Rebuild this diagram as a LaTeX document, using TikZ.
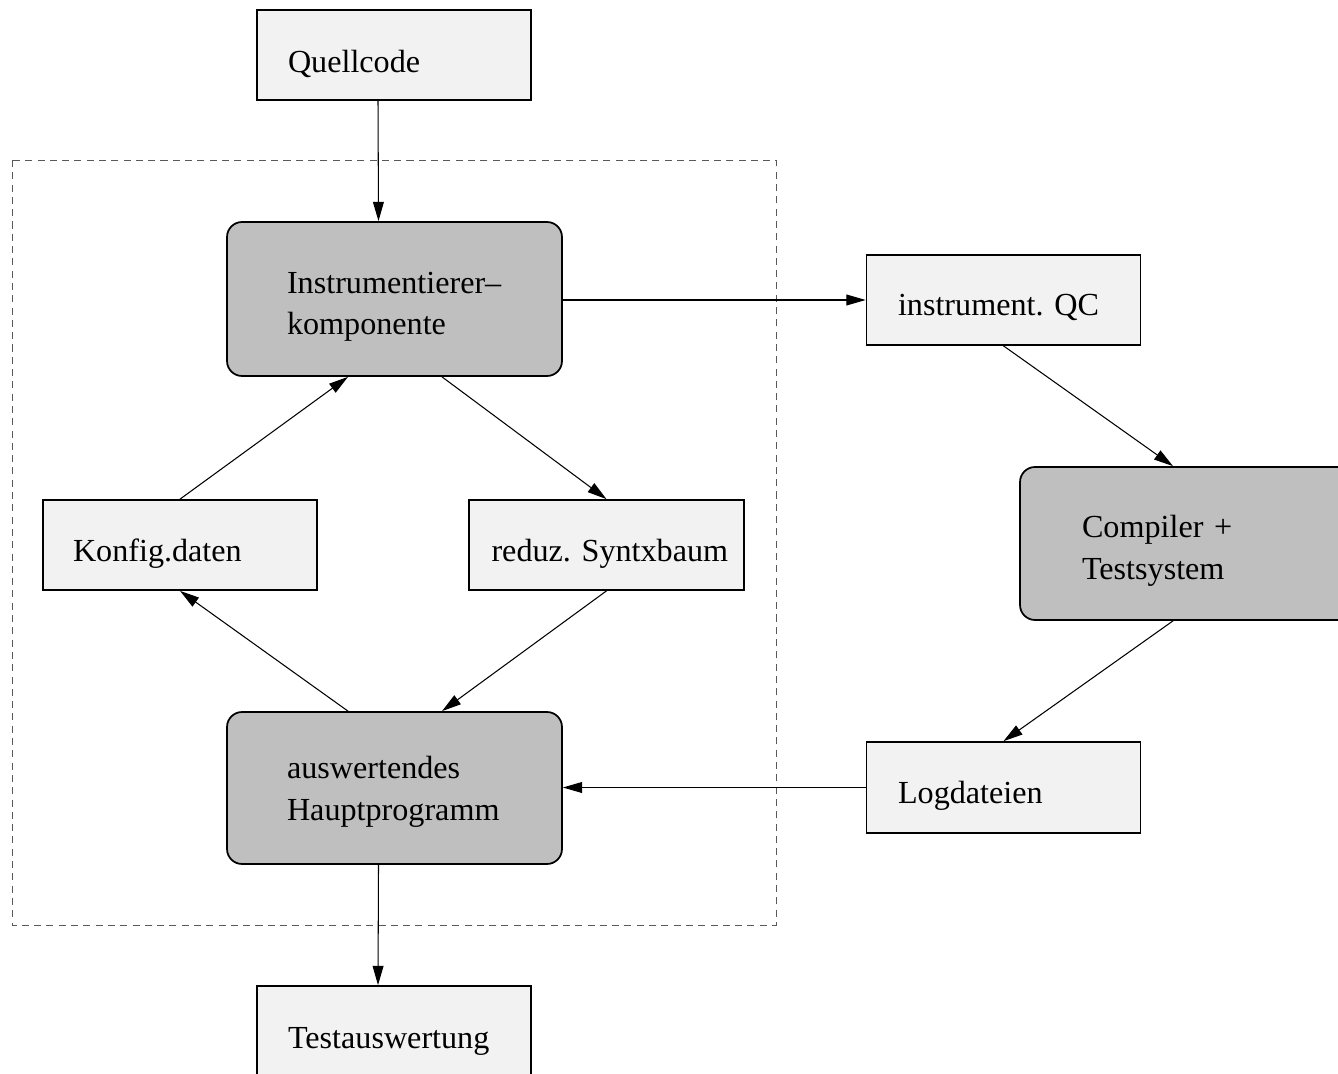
\documentclass[tikz,border=0pt]{standalone}
\usepackage{fontspec}
\setmainfont{Liberation Serif}
\usetikzlibrary{arrows.meta}
\frenchspacing
\definecolor{boxlight}{gray}{0.95}
\definecolor{boxdark}{gray}{0.75}
\tikzset{
  datei/.style={draw, line width=1pt, fill=boxlight, inner sep=0pt,
    minimum width=5.48cm, minimum height=1.8cm, text width=4.24cm,
    align=left, text height=0.64cm, text depth=0cm},
  komp/.style={draw, line width=1pt, fill=boxdark, rounded corners=0.3cm, inner sep=0pt,
    minimum width=6.7cm, minimum height=3.08cm, text width=4.3cm,
    align=left, text height=0.4cm, text depth=0.64cm},
  fluss/.style={->, line width=0.6pt}
}
\begin{document}
\begin{tikzpicture}[>={Triangle[length=11pt,width=6.2pt]}, x=0.02cm, y=-0.02cm,
    font=\fontsize{18.3}{23.8}\selectfont]
\useasboundingbox (0,0) rectangle (1338,1074);

\draw[dashed, dash pattern=on 4pt off 3pt, line width=0.5pt, gray!70!black] (12,160) rectangle (776,925);

\node[datei, text height=0.7cm] (quell) at (394,55) {Quellcode};
\node[komp] (instr) at (394.5,299) {Instrumentierer--\\komponente};
\node[datei, text width=4.22cm] (qc) at (1003.5,300) {instrument.~QC};
\node[datei, text width=4.28cm] (konfig) at (180,545) {Konfig.daten};
\node[datei, minimum width=5.5cm, text width=4.6cm] (syntx) at (606.5,545) {\mbox{reduz. Syntxbaum}};
\node[komp, minimum height=3.06cm, text width=4.22cm] (compiler) at (1187.5,543.5) {Compiler +\\Testsystem};
\node[komp, minimum height=3.04cm, text depth=0.78cm] (haupt) at (394.5,788) {auswertendes\\Hauptprogramm};
\node[datei, minimum height=1.82cm, text width=4.22cm] (logd) at (1003.5,787.5) {Logdateien};
\node[datei, text height=0.7cm] (testa) at (394,1031) {Testauswertung};

\draw[fluss] ([xshift=-0.32cm]quell.south) -- ([xshift=-0.32cm]instr.north);
\draw[fluss] (instr.east |- qc.west) -- (qc.west);
\draw[fluss] (qc.south) -- ([xshift=-0.29cm]compiler.north);
\draw[fluss] ([xshift=0.95cm]instr.south) -- (syntx.north);
\draw[fluss] (konfig.north) -- ([xshift=-0.93cm]instr.south);
\draw[fluss] (syntx.south) -- ([xshift=0.95cm]haupt.north);
\draw[fluss] ([xshift=-0.93cm]haupt.north) -- (konfig.south);
\draw[fluss] ([xshift=-0.29cm]compiler.south) -- (logd.north);
\draw[fluss] (logd.west) -- (logd.west -| haupt.east);
\draw[fluss] ([xshift=-0.32cm]haupt.south) -- ([xshift=-0.32cm]testa.north);
\end{tikzpicture}
\end{document}
